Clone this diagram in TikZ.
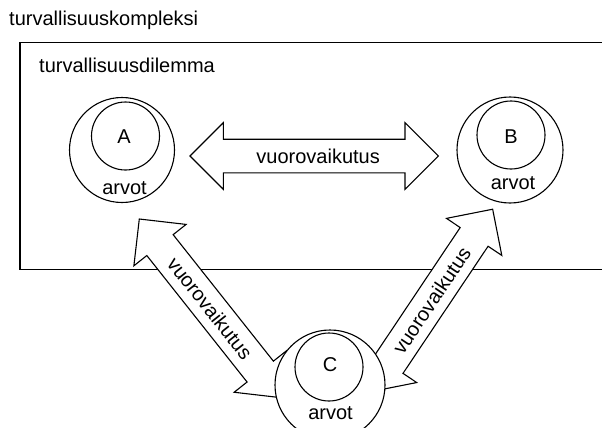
\documentclass[tikz,border=0pt]{standalone}
\usepackage{fontspec}
\setmainfont{Liberation Sans}
\usetikzlibrary{calc}
\tikzset{
  outline/.style={draw=black, line width=1.1pt, fill=white},
  ring/.style={outline, circle, inner sep=0pt},
  lbl/.style={font=\fontsize{20}{24}\selectfont, inner sep=0pt},
  % double-headed block arrow: tip at the origin, running along +x for #1
  pics/blockarrow/.style={code={
    \draw[outline, line join=miter]
      (0,0) -- (33.3,-33.3) -- (33.3,-16.8) -- (#1-33.3,-16.8)
      -- (#1-33.3,-33.3) -- (#1,0) -- (#1-33.3,33.3) -- (#1-33.3,16.8)
      -- (33.3,16.8) -- (33.3,33.3) -- cycle;
  }}
}
\begin{document}
\begin{tikzpicture}[x=1pt,y=-1pt]
\useasboundingbox (0,0) rectangle (602,428);
\clip (0,0) rectangle (602,428);
\fill[white] (0,0) rectangle (602,428);

% security complex and the dilemma frame
\node[lbl, anchor=base west] (kompleksi) at (9,26) {turvallisuuskompleksi};
\draw[outline] (20,42.3) rectangle (620,269.3);
\node[lbl, anchor=base west] (dilemma) at (39,72) {turvallisuusdilemma};

% arrow end points
\coordinate (hL) at (190,156);
\coordinate (hR) at (438.3,156);
\coordinate (dA) at (139.3,219);
\coordinate (dC) at (280.8,397.7);
\coordinate (eC) at (370.5,391.7);
\coordinate (eB) at (492.7,209.3);

% interaction arrows
\pic at (hL) {blockarrow=248.3};
\node[lbl, xshift=4pt] (vA) at ($(hL)!0.5!(hR)$) {vuorovaikutus};
\pic[rotate=-51.6] at (dA) {blockarrow=228};
\node[lbl, rotate=-51.6] (vAC) at ($(dA)!0.5!(dC)$) {vuorovaikutus};
\pic[rotate=56.2] at (eC) {blockarrow=219.6};
\node[lbl, rotate=56.2] (vCB) at ($(eC)!0.5!(eB)$) {vuorovaikutus};

% actors with their values
\node[ring, minimum size=105pt] (aOut) at (122,150) {};
\node[ring, minimum size=68pt] (aIn) at (125.5,136) {};
\node[lbl] (aName) at (124,137) {A};
\node[lbl, anchor=base] (aVal) at (124.5,194) {arvot};

\node[ring, minimum size=106pt] (bOut) at (510,150) {};
\node[ring, minimum size=68pt] (bIn) at (511,135) {};
\node[lbl] (bName) at (511,137) {B};
\node[lbl, anchor=base] (bVal) at (513,189) {arvot};

\node[ring, minimum size=110pt] (cOut) at (330,385) {};
\node[ring, minimum size=68pt] (cIn) at (329,367) {};
\node[lbl] (cName) at (330,365) {C};
\node[lbl, anchor=base] (cVal) at (330.5,419) {arvot};
\end{tikzpicture}
\end{document}
